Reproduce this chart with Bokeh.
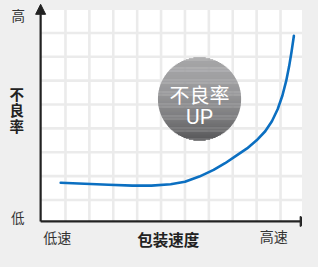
import numpy as np
from bokeh.plotting import figure
from bokeh.models import Range1d, Arrow, NormalHead, GlobalInlineStyleSheet
from bokeh.core.properties import value
from bokeh.embed import file_html
from bokeh.resources import INLINE

# ---- data (speed vs defect rate, in grid units) ----
speed = [0.80, 1.80, 2.80, 3.80, 4.60, 5.40, 6.00, 6.60, 7.20, 7.68, 8.12, 8.60,
         9.00, 9.36, 9.64, 9.88, 10.08, 10.24, 10.36, 10.46, 10.56]
defect_rate = [1.72, 1.68, 1.64, 1.60, 1.60, 1.66, 1.76, 1.98, 2.26, 2.54, 2.84, 3.16,
               3.50, 3.88, 4.30, 4.80, 5.38, 6.00, 6.60, 7.20, 7.88]
y_tick_labels = ["低", "高"]
x_tick_labels = ["低速", "高速"]
x_title = "包装速度"
y_title_chars = ["不", "良", "率"]
badge_lines = ["不良率", "UP"]

CJK = "Noto Sans CJK SC"
BG = "#efefef"

p = figure(width=302, height=251, output_backend="svg", toolbar_location=None,
           x_axis_type=None, y_axis_type=None, min_border=0,
           x_range=Range1d(-1.72, 10.92), y_range=Range1d(-1.16, 9.36))
p.outline_line_color = None
p.background_fill_color = BG
p.border_fill_color = BG
p.stylesheets = [GlobalInlineStyleSheet(css="body{background:#efefef;}")]

# plot panel
p.quad(left=-0.04, right=11.5, bottom=0.1, top=8.96, fill_color="white", line_color=None)

# grid
gx = list(range(1, 11))
p.segment(x0=gx, x1=gx, y0=[0.1] * len(gx), y1=[8.96] * len(gx),
          line_color="#ebebeb", line_width=2.6)
gy = list(range(1, 9))
p.segment(x0=[-0.04] * len(gy), x1=[11.5] * len(gy), y0=gy, y1=gy,
          line_color="#ebebeb", line_width=2.6)

# badge circle with vertical gradient
cx, cy, R = 6.61, 5.23, 1.74
n = 90
h = 2 * R / n
ys, lefts, rights, cols = [], [], [], []
c_top = np.array([0xa4, 0xa4, 0xa6])
c_bot = np.array([0x56, 0x56, 0x58])
for i in range(n):
    ym = cy + R - (i + 0.5) * h
    dy = ym - cy
    hw = np.sqrt(max(R * R - dy * dy, 0.0))
    t = (i + 0.5) / n
    c = c_top + (c_bot - c_top) * (t ** 2.0)
    ys.append(ym); lefts.append(cx - hw); rights.append(cx + hw)
    cols.append("#%02x%02x%02x" % tuple(int(round(v)) for v in c))
p.hbar(y=ys, left=lefts, right=rights, height=h * 1.35, fill_color=cols, line_color=None)

p.text(x=[cx], y=[5.40], text=[badge_lines[0]], text_color="white",
       text_font=value(CJK), text_font_size="20px",
       text_align="center", text_baseline="middle")
p.text(x=[cx], y=[4.46], text=[badge_lines[1]], text_color="white",
       text_font=value("Roboto"), text_font_size="21px",
       text_align="center", text_baseline="middle")

# curve
p.line(speed, defect_rate, line_color="#0b6fc1", line_width=2.6,
       line_cap="round", line_join="round")

# axes with arrows
p.add_layout(Arrow(end=NormalHead(size=10, fill_color="#222222", line_color="#222222"),
                   x_start=-0.04, y_start=0.1, x_end=-0.04, y_end=9.2,
                   line_color="#222222", line_width=2.2))
p.add_layout(Arrow(end=NormalHead(size=10, fill_color="#222222", line_color="#222222"),
                   x_start=-0.04, y_start=0.1, x_end=11.24, y_end=0.1,
                   line_color="#222222", line_width=2.2))

# labels
p.text(x=[-1.0, -0.98], y=[0.28, 8.74], text=y_tick_labels, text_color="#333333",
       text_font=value(CJK), text_font_size="13.5px",
       text_align="center", text_baseline="middle")
p.text(x=[0.66, 9.72], y=[-0.55, -0.53], text=x_tick_labels, text_color="#333333",
       text_font=value(CJK), text_font_size="14px",
       text_align="center", text_baseline="middle")
p.text(x=[5.3], y=[-0.63], text=[x_title], text_color="#222222",
       text_font=value(CJK), text_font_size="15.5px", text_font_style="bold",
       text_align="center", text_baseline="middle")
p.text(x=[-1.04] * 3, y=[5.48, 4.80, 4.12], text=y_title_chars, text_color="#222222",
       text_font=value(CJK), text_font_size="14.5px", text_font_style="bold",
       text_align="center", text_baseline="middle")

open("out.html", "w").write(file_html(p, INLINE))
